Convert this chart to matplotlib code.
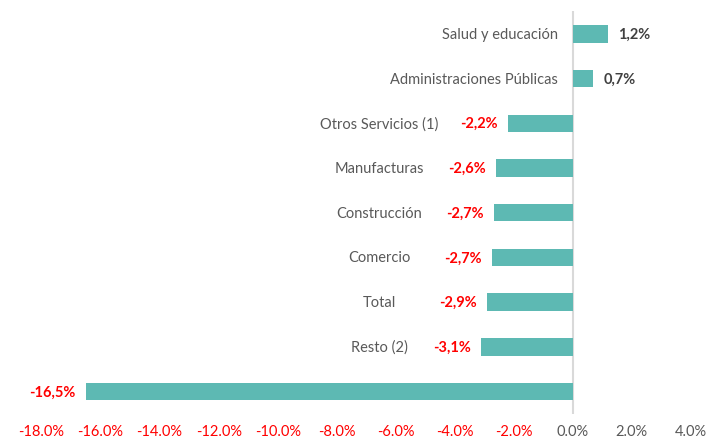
import matplotlib
matplotlib.use('Agg')
import matplotlib.pyplot as plt

# datos (variación %, orden de arriba a abajo)
categorias = ['Salud y educación', 'Administraciones Públicas', 'Otros Servicios (1)',
              'Manufacturas', 'Construcción', 'Comercio', 'Total', 'Resto (2)', '']
valores = [1.2, 0.7, -2.2, -2.6, -2.67, -2.74, -2.9, -3.1, -16.5]
ticks_x = [-18, -16, -14, -12, -10, -8, -6, -4, -2, 0, 2, 4]

plt.rcParams['font.family'] = ['Lato', 'DejaVu Sans']

fig = plt.figure(figsize=(7.07, 4.39), dpi=100)
ax = fig.add_axes([0.0588, 0.0547, 0.9183, 0.917])

pos = list(range(len(categorias)))
ax.barh(pos, valores, height=0.39, color='#5DB9B3', zorder=2)
ax.axvline(0, color='#D9D9D9', lw=1.5, zorder=1)

ax.set_xlim(-18, 4)
ax.set_ylim(len(categorias) - 0.5, -0.5)
ax.set_xticks(ticks_x)
ax.set_xticklabels([f'{t:.1f}%' for t in ticks_x], fontsize=10.5)
for lab, t in zip(ax.get_xticklabels(), ticks_x):
    lab.set_color('#FF0000' if t < 0 else '#595959')
ax.tick_params(axis='x', length=0, pad=7)
ax.set_yticks([])
for s in ax.spines.values():
    s.set_visible(False)

for i, (cat, v) in enumerate(zip(categorias, valores)):
    txt = f'{v:.1f}%'.replace('.', ',')
    if v >= 0:
        ax.text(v + 0.33, i, txt, ha='left', va='center', fontsize=10.5,
                fontweight='bold', color='#404040')
        ax.text(-0.5, i, cat, ha='right', va='center', fontsize=10.5, color='#595959')
    else:
        ax.text(v - 0.35, i, txt, ha='right', va='center', fontsize=10.5,
                fontweight='bold', color='#FF0000', clip_on=False)
        if cat:
            ax.text(-6.55, i, cat, ha='center', va='center', fontsize=10.5, color='#595959')

fig.savefig('out.png', dpi=100)
